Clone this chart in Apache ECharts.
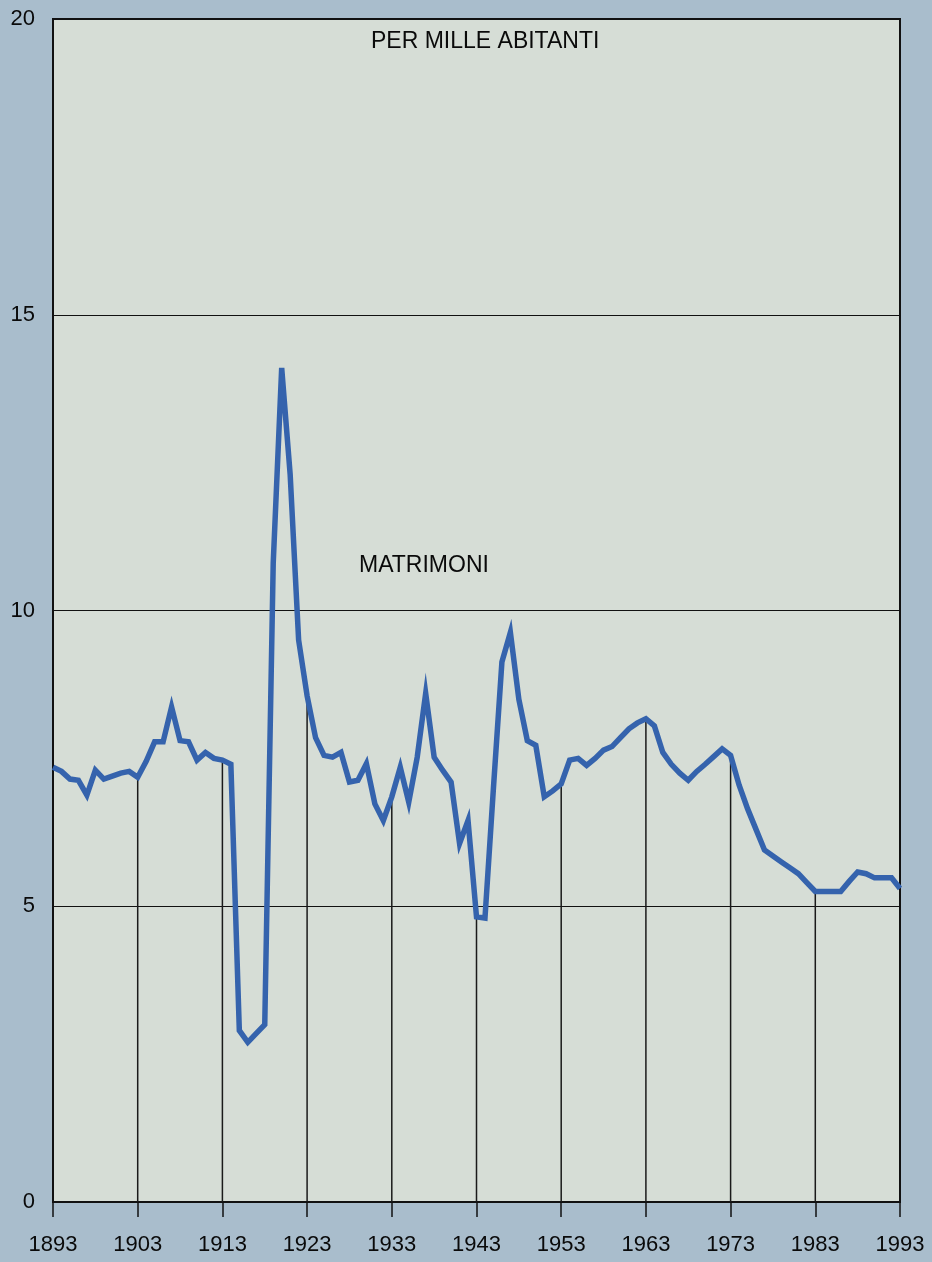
<!DOCTYPE html>
<html>
<head>
<meta charset="utf-8">
<script src="https://cdn.jsdelivr.net/npm/echarts@6/dist/echarts.min.js"></script>
<style>
html,body{margin:0;padding:0;background:#a9bdcc;}
#chart{width:932px;height:1262px;}
</style>
</head>
<body>
<div id="chart"></div>
<script>
// Years 1893..1993
var years = [];
for (var y = 1893; y <= 1993; y++) years.push(String(y));

// Marriages per thousand inhabitants
var marriages = [
  7.35, 7.28, 7.15, 7.13, 6.88, 7.30, 7.15, 7.20, 7.25, 7.28, // 1893-1902
  7.18, 7.45, 7.78, 7.78, 8.37, 7.80, 7.78, 7.47, 7.60, 7.50, // 1903-1912
  7.47, 7.40, 2.90, 2.70, 2.85, 3.00, 10.80, 14.10, 12.30, 9.50, // 1913-1922
  8.56, 7.85, 7.55, 7.52, 7.60, 7.10, 7.13, 7.41, 6.73, 6.45, // 1923-1932
  6.85, 7.35, 6.76, 7.52, 8.60, 7.52, 7.30, 7.10, 6.06, 6.45, // 1933-1942
  4.82, 4.80, 7.00, 9.13, 9.63, 8.50, 7.80, 7.72, 6.85, 6.95, // 1943-1952
  7.07, 7.47, 7.50, 7.38, 7.50, 7.64, 7.70, 7.85, 8.00, 8.10, // 1953-1962
  8.17, 8.05, 7.60, 7.40, 7.25, 7.13, 7.28, 7.40, 7.53, 7.66, // 1963-1972
  7.55, 7.05, 6.65, 6.30, 5.95, 5.85, 5.75, 5.65, 5.55, 5.40, // 1973-1982
  5.25, 5.25, 5.25, 5.25, 5.42, 5.58, 5.55, 5.48, 5.48, 5.48, // 1983-1992
  5.30                                                      // 1993
];

var yTicks = [0, 5, 10, 15, 20];
var titleText = 'PER MILLE ABITANTI';
var seriesLabel = 'MATRIMONI';

// drop lines at inner decade years, built from the data
var dropLines = marriages.map(function (v, i) {
  return (i % 10 === 0 && i !== 0 && i !== marriages.length - 1) ? v : '-';
});

var FONT = '"Liberation Sans", Arial, Helvetica, sans-serif';
var chart = echarts.init(document.getElementById('chart'), null, {renderer: 'canvas'});
chart.setOption({
  backgroundColor: '#a9bdcc',
  animation: false,
  title: [
    {text: titleText, left: 366, top: 25,
     textStyle: {fontFamily: FONT, fontSize: 23, fontWeight: 'normal', color: '#0a0a0a'}},
    {text: seriesLabel, left: 354, top: 549,
     textStyle: {fontFamily: FONT, fontSize: 23, fontWeight: 'normal', color: '#0a0a0a'}}
  ],
  grid: {
    left: 53, right: 32, top: 19, bottom: 60,
    show: true, backgroundColor: '#d6ddd6', borderColor: '#111', borderWidth: 2
  },
  xAxis: {
    type: 'category',
    data: years,
    boundaryGap: false,
    axisLine: {show: true, lineStyle: {color: '#111', width: 2}},
    axisTick: {show: true, interval: 9, length: 15, inside: false, lineStyle: {color: '#111', width: 1.5}},
    axisLabel: {interval: 9, margin: 32, fontFamily: FONT, fontSize: 22, color: '#0a0a0a'},
    splitLine: {show: false}
  },
  yAxis: {
    type: 'value',
    min: yTicks[0], max: yTicks[yTicks.length - 1], interval: 5,
    axisLine: {show: true, lineStyle: {color: '#111', width: 2}},
    axisTick: {show: false},
    axisLabel: {margin: 18, fontFamily: FONT, fontSize: 22, color: '#0a0a0a'},
    splitLine: {show: true, lineStyle: {color: '#111', width: 1.2}}
  },
  series: [
    {
      type: 'bar',
      data: dropLines,
      barWidth: 1.5,
      itemStyle: {color: '#1a1a1a'},
      z: 1,
      silent: true
    },
    {
      type: 'line',
      data: marriages,
      symbol: 'none',
      smooth: false,
      lineStyle: {color: '#3563ad', width: 5.5, join: 'miter'},
      z: 3
    }
  ]
});
</script>
</body>
</html>
